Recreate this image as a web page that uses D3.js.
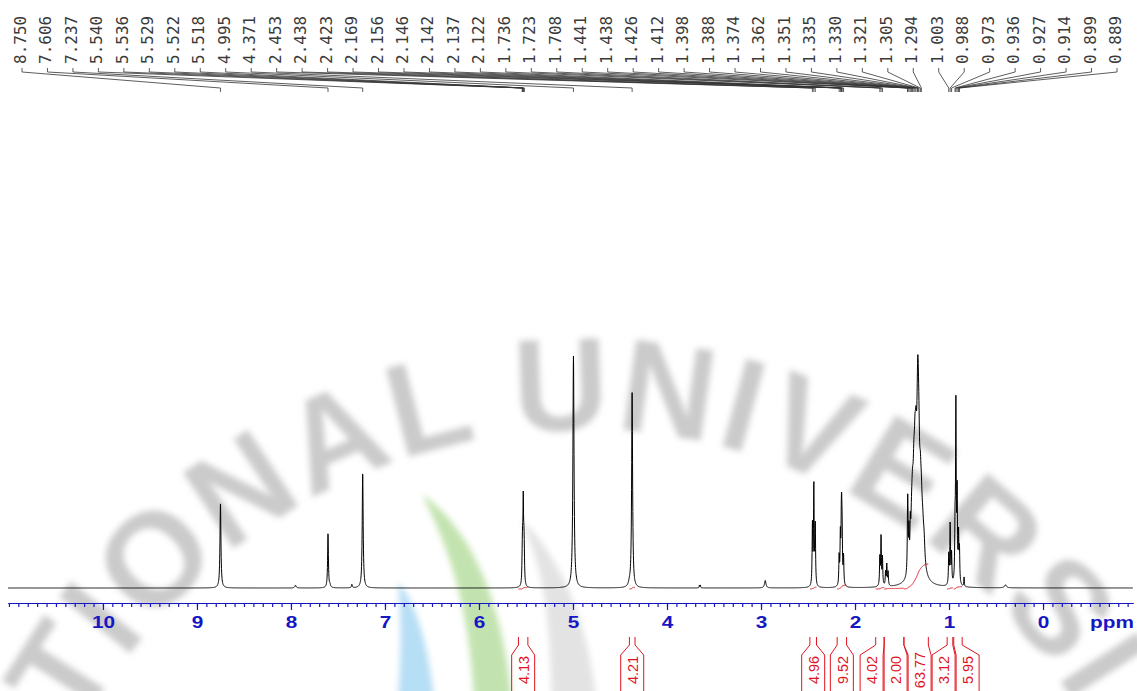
<!DOCTYPE html>
<html>
<head>
<meta charset="utf-8">
<script src="https://cdn.jsdelivr.net/npm/d3@7"></script>
<style>
  body { margin: 0; background: #fff; }
  svg { display: block; }
</style>
</head>
<body>
<div id="chart"></div>
<script>
// picked peaks printed along the top (ppm)
const peakLabels = [8.750, 7.606, 7.237, 5.540, 5.536, 5.529, 5.522, 5.518, 4.995, 4.371,
  2.453, 2.438, 2.423, 2.169, 2.156, 2.146, 2.142, 2.137, 2.122, 1.736, 1.723, 1.708,
  1.441, 1.438, 1.426, 1.412, 1.398, 1.388, 1.374, 1.362, 1.351, 1.335, 1.330, 1.321,
  1.305, 1.294, 1.003, 0.988, 0.973, 0.936, 0.927, 0.914, 0.899, 0.889];

// lines making up the spectrum: ppm, height, half width (ppm)
const linePpm = [8.750, 7.952, 7.606, 7.585, 7.352, 7.237,
  5.540, 5.536, 5.529, 5.522, 5.518, 4.995, 4.400, 4.371, 3.655, 3.645, 2.955,
  2.453, 2.438, 2.423, 2.169, 2.156, 2.146, 2.142, 2.137, 2.122,
  1.736, 1.723, 1.708, 1.675, 1.662, 1.648,
  1.441, 1.438, 1.426, 1.412,
  1.398, 1.388, 1.374, 1.362, 1.351, 1.335, 1.330, 1.321, 1.305, 1.294, 1.330, 1.280, 1.265,
  1.003, 0.988, 0.973, 0.936, 0.927, 0.914, 0.899, 0.889, 0.840, 0.400];
const lineHeight = [36.5, 1.2, 23.5, 1.0, 1.5, 49.5,
  8, 14, 33, 14, 8, 100, 1.5, 84, 1.2, 1.2, 3.2,
  26, 43, 26, 12, 20, 20, 22, 18, 12,
  12, 21, 12, 6, 9, 6,
  19, 19, 16, 14,
  16, 21, 26, 30, 31, 33, 33, 30, 22, 15, 8, 14, 8,
  13, 26, 13, 22, 75, 38, 20, 14, 4, 1.3];
const lineWidth = [0.006, 0.008, 0.005, 0.006, 0.005, 0.006,
  0.004, 0.004, 0.004, 0.004, 0.004, 0.007, 0.012, 0.006, 0.003, 0.003, 0.009,
  0.004, 0.004, 0.004, 0.004, 0.004, 0.004, 0.004, 0.004, 0.004,
  0.004, 0.004, 0.004, 0.004, 0.004, 0.004,
  0.004, 0.004, 0.004, 0.004,
  0.010, 0.010, 0.010, 0.010, 0.010, 0.010, 0.010, 0.010, 0.010, 0.010, 0.06, 0.014, 0.01,
  0.004, 0.004, 0.004, 0.004, 0.004, 0.004, 0.004, 0.004, 0.003, 0.012];

// integrals: range start, range end (ppm) and value
const intFrom = [5.58, 4.40, 2.48, 2.19, 1.78, 1.69, 1.48, 1.02, 0.95];
const intTo = [5.48, 4.34, 2.41, 2.09, 1.69, 1.48, 1.22, 0.96, 0.86];
const intValue = ["4.13", "4.21", "4.96", "9.52", "4.02", "2.00", "63.77", "3.12", "5.95"];

const axisTicks = [10, 9, 8, 7, 6, 5, 4, 3, 2, 1, 0];

const width = 1137, height = 691;
const blue = "#1616c4", red = "#e0141e";

const svg = d3.select("#chart").append("svg")
  .attr("width", width).attr("height", height);

// soft watermark behind everything
const defs = svg.append("defs");
defs.append("filter").attr("id", "soft")
  .attr("x", "-10%").attr("y", "-10%").attr("width", "120%").attr("height", "120%")
  .append("feGaussianBlur").attr("stdDeviation", 3.2);

const wm = svg.append("g").attr("class", "watermark").attr("filter", "url(#soft)");
wm.append("path")
  .attr("d", "M398,582 C414,600 428,640 434,700 L398,700 C401,660 402,620 398,582 Z")
  .attr("fill", "#b6def4");
wm.append("path")
  .attr("d", "M422,494 C472,530 502,600 512,700 L474,700 C470,620 455,560 422,494 Z")
  .attr("fill", "#c2e3af");
wm.append("path")
  .attr("d", "M520,518 C560,556 588,620 596,700 L552,700 C550,620 545,570 520,518 Z")
  .attr("fill", "#e3e3e3");

const cx = 585, cy = 1005, R = 575;
defs.append("path").attr("id", "arc")
  .attr("d", `M${cx - R},${cy} A${R},${R} 0 0 1 ${cx + R},${cy}`);
const wmText = wm.append("text")
  .attr("font-family", "Liberation Sans, Arial, sans-serif")
  .attr("font-weight", "bold")
  .attr("font-size", 132)
  .attr("fill", "#cbcbcb");
wmText.append("textPath").attr("href", "#arc")
  .attr("startOffset", "44.3%").attr("text-anchor", "end")
  .attr("letter-spacing", 4)
  .text("NATIONAL");
wmText.append("textPath").attr("href", "#arc")
  .attr("startOffset", "46.1%").attr("text-anchor", "start")
  .attr("letter-spacing", 5)
  .text("UNIVERSITY");

// scales
const x = d3.scaleLinear().domain([11.01, -0.957]).range([8, 1133]);
const y = d3.scaleLinear().domain([0, 100]).range([588, 356]);

function intensity(p) {
  let s = 0;
  for (let i = 0; i < linePpm.length; i++) {
    const d = (p - linePpm[i]) / lineWidth[i];
    s += lineHeight[i] / (1 + d * d);
  }
  return s;
}

const step = 0.0015;
const spec = d3.range(x.domain()[0], x.domain()[1], -step).map(p => [p, intensity(p)]);

svg.append("path")
  .datum(spec)
  .attr("fill", "none")
  .attr("stroke", "#000")
  .attr("stroke-width", 1)
  .attr("d", d3.line().x(d => x(d[0])).y(d => y(d[1])));

// integral curves (red)
const yInt = d3.scaleLinear().domain([0, 63.77]).range([589, 564]);
const intG = svg.append("g").attr("class", "integrals");
intFrom.forEach((f, i) => {
  const pts = d3.range(f, intTo[i], -step).map(p => intensity(p));
  const total = d3.sum(pts);
  let acc = 0;
  const curve = pts.map((v, j) => {
    acc += v;
    return [f - j * step, (acc / total) * (+intValue[i])];
  });
  intG.append("path")
    .datum(curve)
    .attr("fill", "none")
    .attr("stroke", red)
    .attr("stroke-width", 1)
    .attr("d", d3.line().x(d => x(d[0])).y(d => yInt(d[1])));
});

// axis
const axisY = 603;
const major = d3.axisBottom(x).tickValues(axisTicks).tickSize(7).tickSizeOuter(0)
  .tickFormat(d3.format("d"));
const minor = d3.axisBottom(x).tickValues(d3.range(-9, 111).map(v => v / 10)).tickSize(4)
  .tickSizeOuter(0);

const gMinor = svg.append("g").attr("transform", `translate(0,${axisY})`).call(minor);
gMinor.selectAll(".tick text").remove();
const gMajor = svg.append("g").attr("transform", `translate(0,${axisY})`).call(major);
[gMinor, gMajor].forEach(g => {
  g.select(".domain").attr("stroke", blue).attr("stroke-width", 1.2);
  g.selectAll(".tick line").attr("stroke", blue).attr("stroke-width", 1.2);
});
gMajor.selectAll(".tick text")
  .attr("fill", blue)
  .attr("font-family", "Liberation Sans, Arial, sans-serif")
  .attr("font-weight", "bold")
  .attr("font-size", 16)
  .attr("y", 14)
  .attr("transform", "scale(1.3,1)");
svg.append("text")
  .attr("transform", `translate(1134,${axisY + 14}) scale(1.3,1)`)
  .attr("dy", "0.71em")
  .attr("text-anchor", "end")
  .attr("fill", blue)
  .attr("font-family", "Liberation Sans, Arial, sans-serif")
  .attr("font-weight", "bold")
  .attr("font-size", 16)
  .text("ppm");

// integral boxes under the axis
function spread(centers, w) {
  let groups = centers.map((c, i) => ({ items: [i], pos: c }));
  let merged = true;
  while (merged) {
    merged = false;
    for (let i = 0; i < groups.length - 1; i++) {
      const a = groups[i], b = groups[i + 1];
      if (a.pos + a.items.length * w / 2 > b.pos - b.items.length * w / 2) {
        const items = a.items.concat(b.items);
        groups.splice(i, 2, { items, pos: d3.mean(items, k => centers[k]) });
        merged = true;
        break;
      }
    }
  }
  const out = [];
  groups.forEach(g => g.items.forEach((k, j) => {
    out[k] = g.pos + (j - (g.items.length - 1) / 2) * w;
  }));
  return out;
}

const boxW = 24, half = 11.5;
const boxCenters = spread(intFrom.map((f, i) => (x(f) + x(intTo[i])) / 2), boxW);
const boxes = svg.append("g").attr("class", "int-labels");
intFrom.forEach((f, i) => {
  const x1 = x(f), x2 = x(intTo[i]), c = boxCenters[i];
  boxes.append("path")
    .attr("d", `M${x1},637V645L${c - half},655V695M${x2},637V645L${c + half},655V695`)
    .attr("fill", "none")
    .attr("stroke", red)
    .attr("stroke-width", 1);
  boxes.append("text")
    .attr("transform", `translate(${c + 0.5},670) rotate(-90)`)
    .attr("text-anchor", "middle")
    .attr("dy", "0.36em")
    .attr("fill", red)
    .attr("font-family", "Liberation Sans, Arial, sans-serif")
    .attr("font-size", 14.5)
    .text(intValue[i]);
});

// peak pick labels along the top
const lx = d3.scalePoint().domain(d3.range(peakLabels.length)).range([22, 1117]);
const picks = svg.append("g").attr("class", "picks");
peakLabels.forEach((p, i) => {
  const xi = lx(i), xp = x(p);
  picks.append("path")
    .attr("d", `M${xi},68V72L${xp},88V92`)
    .attr("fill", "none")
    .attr("stroke", "#333")
    .attr("stroke-width", 0.8);
  picks.append("text")
    .attr("transform", `translate(${xi + 4},64) rotate(-90)`)
    .attr("fill", "#3a3a3a")
    .attr("font-family", "DejaVu Sans Mono, monospace")
    .attr("font-size", 16)
    .text(p.toFixed(3));
});
</script>
</body>
</html>
